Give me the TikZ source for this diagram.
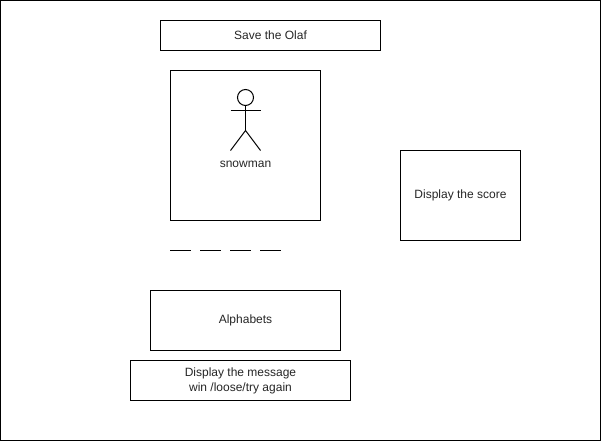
\documentclass[tikz,border=0pt]{standalone}
\usepackage{fontspec}
\setmainfont{Liberation Sans}
\tikzset{
  box/.style={draw=black,line width=0.75pt,minimum width=0pt,minimum height=0pt,inner sep=0pt,align=center,font=\fontsize{9pt}{11.25pt}\selectfont,text=black!85},
  ln/.style={line width=0.75pt,draw=black}
}
\begin{document}
\begin{tikzpicture}[x=0.75pt,y=-0.75pt]
\useasboundingbox (0,0) rectangle (603,443);
\fill[white] (0,0) rectangle (603,443);
\node[box,minimum width=600*0.75pt,minimum height=440*0.75pt] (frame) at (300.5,220.5) {};
\node[box,minimum width=220*0.75pt,minimum height=30*0.75pt] (title) at (270.5,35.5) {Save the Olaf};
\node[box,minimum width=150*0.75pt,minimum height=150*0.75pt] (stage) at (245.5,145.5) {};
\node[box,minimum width=120*0.75pt,minimum height=90*0.75pt] (score) at (460.5,195.5) {Display the score};
\node[box,minimum width=190*0.75pt,minimum height=60*0.75pt] (alpha) at (245.5,320.5) {Alphabets};
\node[box,minimum width=220*0.75pt,minimum height=40*0.75pt] (msg) at (240.5,380.5) {Display the message\\win /loose/try again};
\coordinate (neck) at (245.5,105.5);
\coordinate (hip) at (245.5,130.5);
\draw[ln] (245.5,97.5) circle (8);
\draw[ln] (neck) -- (hip);
\draw[ln] (230.5,110.5) -- (260.5,110.5);
\draw[ln] (230.5,150.5) -- (hip) -- (260.5,150.5);
\node[font=\fontsize{9pt}{11pt}\selectfont,text=black!85,inner sep=0pt] (snow) at (245.5,164) {snowman};
\foreach \x in {170,200,230,260} \draw[ln] (\x,250.5) -- ++(20.5,0);
\end{tikzpicture}
\end{document}
